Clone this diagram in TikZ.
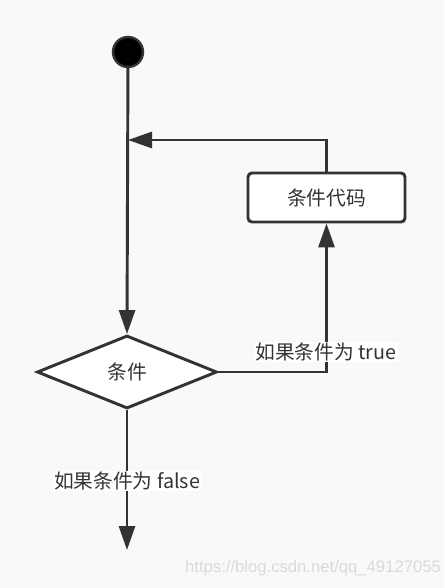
\documentclass[tikz,border=0pt]{standalone}
\usepackage{fontspec}
\setmainfont{Noto Sans CJK SC}
\newfontfamily\wmfont{Liberation Sans}
\usetikzlibrary{arrows.meta,shapes.geometric}
\definecolor{bg}{HTML}{F9F9F9}
\definecolor{ink}{HTML}{333333}
\definecolor{wm}{HTML}{DADADA}
\begin{document}
\begin{tikzpicture}[x=0.75pt,y=-0.75pt,
  conn/.style={draw=ink,line width=2.2pt,-{Triangle[length=18pt,width=12pt]}},
  lbl/.style={fill=white,text=ink,inner sep=1pt,font=\fontsize{14.8pt}{16pt}\selectfont},
  txt/.style={text=ink,font=\fontsize{14.8pt}{16pt}\selectfont}]
\useasboundingbox[fill=bg] (0,0) rectangle (444,588);
\node[circle,fill=black,draw=ink,line width=1.8pt,minimum size=22.5pt,inner sep=0] (start) at (128,52) {};
\node[diamond,draw=ink,fill=white,line width=2.2pt,minimum width=135pt,minimum height=54.75pt,inner sep=0,txt] (cond) at (127,372) {条件};
\node[rectangle,rounded corners=3pt,draw=ink,fill=white,line width=2.2pt,minimum width=117.75pt,minimum height=36.75pt,inner sep=0,txt] (code) at (326.5,197.5) {条件代码};
\coordinate (join) at (128,140);
\coordinate (fin) at (127,550);
\draw[conn] (start) -- (cond.north);
\draw[conn] (cond.east) -| (code.south);
\draw[conn] (code.north) |- (join);
\draw[conn] (cond.south) -- (fin);
\node[lbl] (tl) at (326,352) {如果条件为 true};
\node[lbl] (fl) at (127,481) {如果条件为 false};
\node[text=wm,font=\wmfont\fontsize{12.5pt}{14pt}\selectfont] (wmk) at (313,568) {https://blog.csdn.net/qq\_49127055};
\end{tikzpicture}
\end{document}
